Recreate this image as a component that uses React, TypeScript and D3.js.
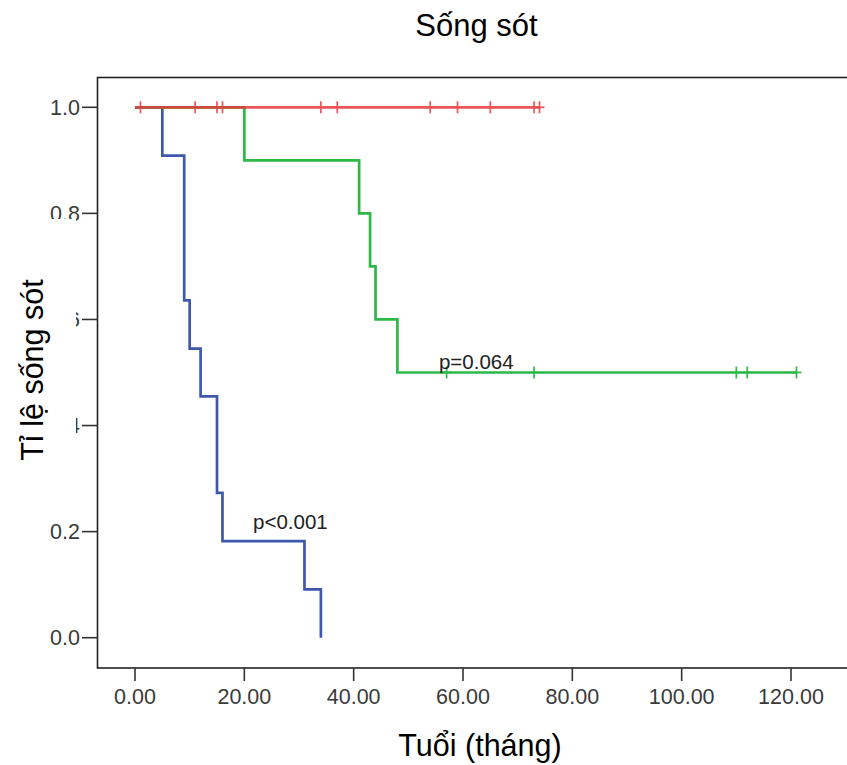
import React from "react";
import * as d3 from "d3";

const chartTitle = "Sống sót";
const xTitle = "Tuổi (tháng)";
const yTitle = "Tỉ lệ sống sót";

const xTicks = [0, 20, 40, 60, 80, 100, 120];
const yTicks = [0, 0.2, 0.4, 0.6, 0.8, 1.0];

// Blue group
const blueTimes = [0, 5, 9, 10, 12, 15, 16, 31, 34];
const blueSurv = [1, 0.909, 0.636, 0.545, 0.455, 0.273, 0.182, 0.091, 0];
const blueCensor: number[] = [];
const blueEnd = 34;

// Green group
const greenTimes = [0, 20, 41, 43, 44, 48];
const greenSurv = [1, 0.9, 0.8, 0.7, 0.6, 0.5];
const greenCensor = [57, 73, 110, 112, 121];
const greenEnd = 121;

// Red group
const redTimes = [0];
const redSurv = [1];
const redCensor = [1, 11, 15, 16, 34, 37, 54, 59, 65, 73, 74];
const redEnd = 74;

const pLabels = [
  { text: "p<0.001", t: 21.6, s: 0.205 },
  { text: "p=0.064", t: 55.6, s: 0.507 },
];

const FONT = "'Liberation Sans', Arial, sans-serif";

function stepPoints(times: number[], surv: number[], end: number): [number, number][] {
  const pts: [number, number][] = times.map((t, i) => [t, surv[i]]);
  pts.push([end, surv[surv.length - 1]]);
  return pts;
}

function survAt(times: number[], surv: number[], t: number) {
  let s = surv[0];
  for (let i = 0; i < times.length; i++) if (times[i] <= t) s = surv[i];
  return s;
}

export default function App() {
  const W = 847;
  const H = 765;
  const x = d3.scaleLinear().domain([0, 120]).range([135, 791]);
  const y = d3.scaleLinear().domain([0, 1]).range([637.7, 107.3]);
  const line = d3
    .line<[number, number]>()
    .x((d) => x(d[0]))
    .y((d) => y(d[1]))
    .curve(d3.curveStepAfter);

  const groups = [
    { times: blueTimes, surv: blueSurv, censor: blueCensor, end: blueEnd, color: "#3E58AC", op: 1 },
    { times: greenTimes, surv: greenSurv, censor: greenCensor, end: greenEnd, color: "#2EB848", op: 1 },
    { times: redTimes, surv: redSurv, censor: redCensor, end: redEnd, color: "#E8373C", op: 0.85 },
  ];

  const frameLeft = 97.5;
  const frameTop = 77.5;
  const frameBottom = 668;

  return (
    <div style={{ position: "absolute", left: 0, top: 0 }}>
      <svg width={W} height={H} style={{ display: "block", background: "#fff" }} fontFamily={FONT}>
        <rect x={0} y={0} width={W} height={H} fill="#fff" />
        <rect
          x={frameLeft}
          y={frameTop}
          width={900}
          height={frameBottom - frameTop}
          fill="none"
          stroke="#222"
          strokeWidth={1.6}
        />
        {yTicks.map((v) => (
          <g key={"y" + v}>
            <line x1={82} x2={frameLeft} y1={y(v)} y2={y(v)} stroke="#333" strokeWidth={1.6} />
            <text x={80} y={y(v)} dy="0.36em" textAnchor="end" fontSize={21.5} fill="#3a3a3a">
              {d3.format(".1f")(v)}
            </text>
          </g>
        ))}
        {xTicks.map((v) => (
          <g key={"x" + v}>
            <line x1={x(v)} x2={x(v)} y1={frameBottom} y2={frameBottom + 13} stroke="#333" strokeWidth={1.6} />
            <text x={x(v)} y={704} textAnchor="middle" fontSize={21.5} fill="#3a3a3a">
              {d3.format(".2f")(v)}
            </text>
          </g>
        ))}
        <rect x={0} y={219} width={76} height={250} fill="#fff" />
        <text
          transform={`translate(43,370) rotate(-90)`}
          textAnchor="middle"
          fontSize={30.5}
          fill="#000"
        >
          {yTitle}
        </text>
        {groups.map((g, gi) => (
          <g key={"g" + gi} opacity={g.op}>
            <path
              d={line(stepPoints(g.times, g.surv, g.end)) || ""}
              fill="none"
              stroke={g.color}
              strokeWidth={2.7}
            />
            {g.censor.map((c, ci) => {
              const s = survAt(g.times, g.surv, c);
              return (
                <g key={ci} stroke={g.color} strokeWidth={1.7}>
                  <line x1={x(c)} x2={x(c)} y1={y(s) - 6} y2={y(s) + 6} />
                  <line x1={x(c) - 5} x2={x(c) + 5} y1={y(s)} y2={y(s)} />
                </g>
              );
            })}
          </g>
        ))}
        {pLabels.map((p) => (
          <text key={p.text} x={x(p.t)} y={y(p.s)} fontSize={20.5} fill="#222">
            {p.text}
          </text>
        ))}
        <text x={476.5} y={36} textAnchor="middle" fontSize={31} fill="#000">
          {chartTitle}
        </text>
        <text x={480} y={756} textAnchor="middle" fontSize={30.5} fill="#000">
          {xTitle}
        </text>
      </svg>
    </div>
  );
}
